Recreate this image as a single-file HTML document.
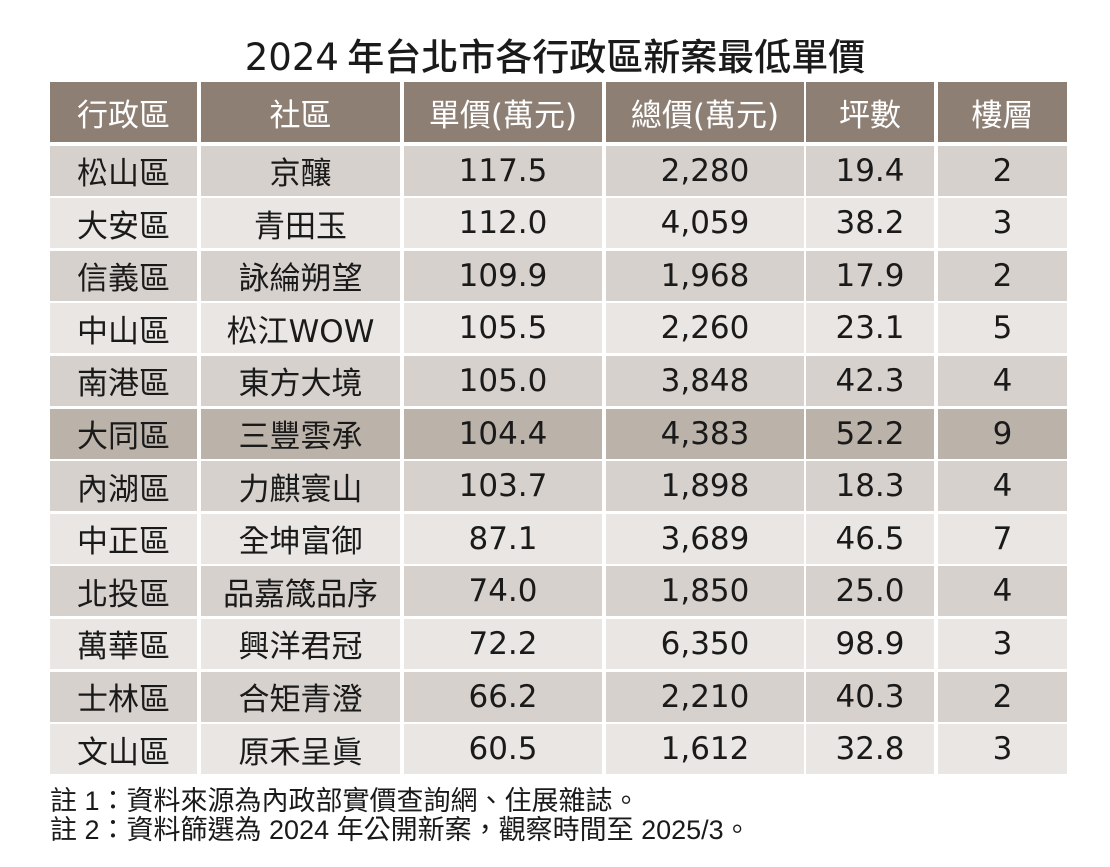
<!DOCTYPE html>
<html><head><meta charset="utf-8">
<style>
body{margin:0;width:1110px;height:867px;background:#fff;position:relative;overflow:hidden;font-family:"DejaVu Sans","Noto Sans CJK TC",sans-serif;color:#1a1a1a}
.title{position:absolute;left:0;width:1110px;top:31px;text-align:center;font-size:37px;line-height:46px;font-family:"Noto Sans CJK TC",sans-serif;font-weight:500}
.title .n{font-family:"DejaVu Sans",sans-serif;font-weight:400}
.c{position:absolute;display:flex;align-items:center;justify-content:center;font-size:31px;font-family:"DejaVu Sans","Noto Sans CJK TC",sans-serif}
.h{background:#8e7f74;color:#fff}
.a{background:#d7d1cd}.b{background:#e9e6e3}.x{background:#bbb2aa}
.note{position:absolute;left:50px;font-size:27px;font-family:"Liberation Sans","Noto Sans CJK TC",sans-serif;line-height:30px}
</style></head><body>
<div class="title"><span class="n">2024</span> 年台北市各行政區新案最低單價</div>
<div id="t"></div>
<div class="note" style="top:786px">註 1：資料來源為內政部實價查詢網、住展雜誌。</div>
<div class="note" style="top:815px">註 2：資料篩選為 2024 年公開新案，觀察時間至 2025/3。</div>
<script>
(function(){
var cols=[[50,147],[201,199],[404,198],[606,198],[806,128],[938,129]];
var head=["行政區","社區","單價(萬元)","總價(萬元)","坪數","樓層"];
var rows=[["松山區","京釀","117.5","2,280","19.4","2"],["大安區","青田玉","112.0","4,059","38.2","3"],["信義區","詠綸朔望","109.9","1,968","17.9","2"],["中山區","松江WOW","105.5","2,260","23.1","5"],["南港區","東方大境","105.0","3,848","42.3","4"],["大同區","三豐雲承","104.4","4,383","52.2","9"],["內湖區","力麒寰山","103.7","1,898","18.3","4"],["中正區","全坤富御","87.1","3,689","46.5","7"],["北投區","品嘉箴品序","74.0","1,850","25.0","4"],["萬華區","興洋君冠","72.2","6,350","98.9","3"],["士林區","合矩青澄","66.2","2,210","40.3","2"],["文山區","原禾呈眞","60.5","1,612","32.8","3"]];
var h="";
for(var j=0;j<6;j++)h+='<div class="c h" style="left:'+cols[j][0]+'px;top:82px;width:'+cols[j][1]+'px;height:60px">'+head[j]+'</div>';
for(var i=0;i<12;i++){var y=145.5+i*52.6;var cls=i==5?"x":(i%2==0?"a":"b");
for(var k=0;k<6;k++)h+='<div class="c '+cls+'" style="left:'+cols[k][0]+'px;top:'+y+'px;width:'+cols[k][1]+'px;height:50px">'+rows[i][k]+'</div>';}
document.getElementById("t").innerHTML=h;
})();
</script>
</body></html>
